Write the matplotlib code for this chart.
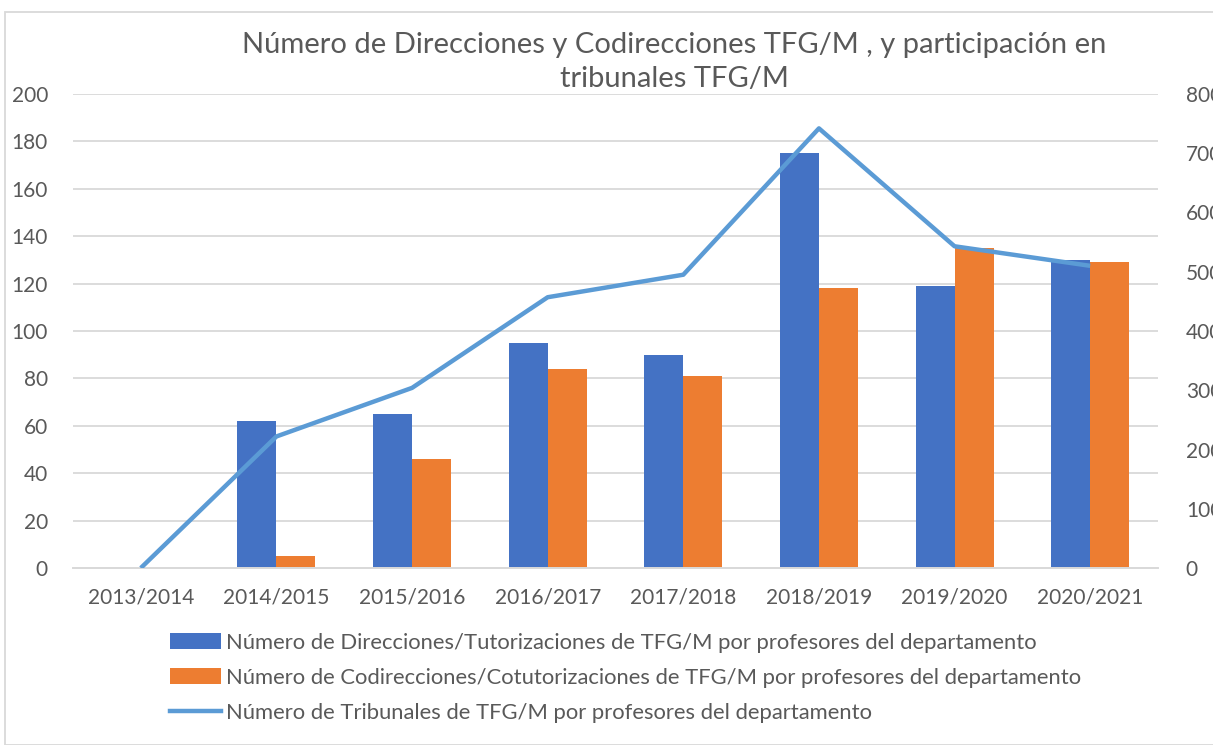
import matplotlib
matplotlib.use("Agg")
import matplotlib.pyplot as plt
from matplotlib.patches import Rectangle, Patch
from matplotlib.lines import Line2D
import numpy as np

plt.rcParams['font.family'] = ['Lato', 'DejaVu Sans']

categories = ["2013/2014", "2014/2015", "2015/2016", "2016/2017",
              "2017/2018", "2018/2019", "2019/2020", "2020/2021"]
direcciones = [0, 62, 65, 95, 90, 175, 119, 130]
codirecciones = [0, 5, 46, 84, 81, 118, 135, 129]
tribunales = [0, 222, 304, 457, 495, 742, 543, 510]

left_ticks = list(range(0, 201, 20))
right_ticks = list(range(0, 801, 100))

title = "Número de Direcciones y Codirecciones TFG/M , y participación en\ntribunales TFG/M"
labels = ["Número de Direcciones/Tutorizaciones de TFG/M por profesores del departamento",
          "Número de Codirecciones/Cotutorizaciones de TFG/M por profesores del departamento",
          "Número de Tribunales de TFG/M por profesores del departamento"]

c_blue = "#4472C4"
c_orange = "#ED7D31"
c_line = "#5B9BD5"
c_grid = "#D9D9D9"
c_text = "#595959"

W, H = 1213, 745
fig = plt.figure(figsize=(W / 100, H / 100), dpi=100)
fig.patch.set_facecolor("white")

# chart border
fig.patches.append(Rectangle((5 / W, 0), 1.2, 1 - 12 / H, transform=fig.transFigure,
                             fill=False, edgecolor=c_grid, linewidth=1.3, zorder=0))

ax = fig.add_axes([73 / W, 1 - 568 / H, (1158 - 73) / W, (568 - 94) / H])
ax2 = ax.twinx()

x = np.arange(len(categories))
bw = 0.288
ax.bar(x - bw / 2, direcciones, bw, color=c_blue, zorder=2)
ax.bar(x + bw / 2, codirecciones, bw, color=c_orange, zorder=2)
ax2.plot(x, tribunales, color=c_line, linewidth=3.2, solid_capstyle='butt', zorder=3)

ax.set_xlim(-0.5, len(categories) - 0.5)
ax.set_ylim(0, 200)
ax2.set_ylim(0, 800)
ax.set_yticks(left_ticks)
ax2.set_yticks(right_ticks)
ax.set_xticks(x)
ax.set_xticklabels(categories)

ax.grid(axis='y', color=c_grid, linewidth=1.3, zorder=0)
ax.set_axisbelow(True)
for a in (ax, ax2):
    for s in ("top", "left", "right"):
        a.spines[s].set_visible(False)
    a.spines["bottom"].set_color(c_grid)
    a.spines["bottom"].set_linewidth(1.3)
    a.tick_params(length=0, labelsize=15, colors=c_text)
ax.tick_params(axis='y', pad=18)
ax.tick_params(axis='x', pad=14)
ax2.tick_params(axis='y', pad=20)

fig.text(674 / W, 1 - 62 / H, title, ha='center', va='center', fontsize=21,
         color=c_text, linespacing=1.35)

handles = [Patch(facecolor=c_blue), Patch(facecolor=c_orange),
           Line2D([0], [0], color=c_line, linewidth=3.2)]
fig.legend(handles, labels, loc='upper left', bbox_to_anchor=(150 / W, 1 - 613 / H),
           frameon=False, fontsize=15.8, labelcolor=c_text, handlelength=2.35,
           handleheight=0.75, handletextpad=0.2, labelspacing=0.68)

fig.savefig("out.png", dpi=100, facecolor="white")
